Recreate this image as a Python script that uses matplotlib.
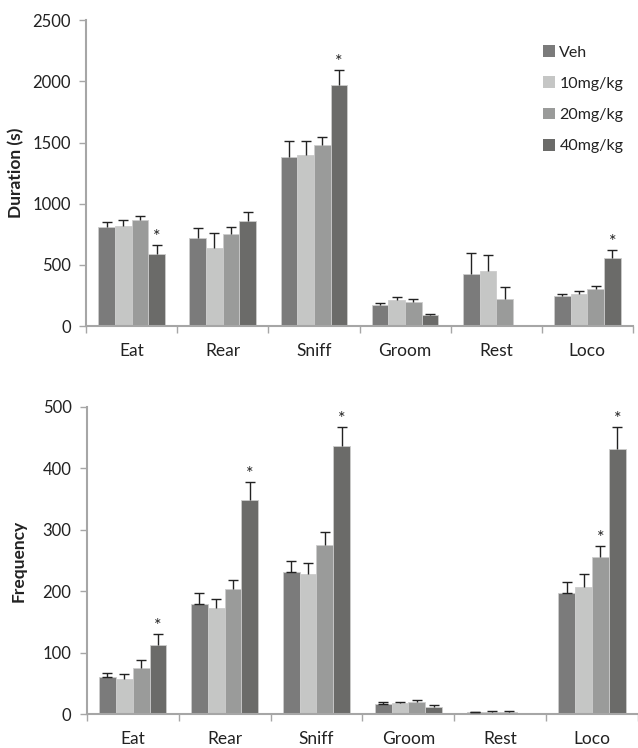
import matplotlib
matplotlib.use("Agg")
import matplotlib.pyplot as plt
import numpy as np
from matplotlib.patches import Patch

plt.rcParams['font.family'] = ['Lato', 'DejaVu Sans']

categories = ["Eat", "Rear", "Sniff", "Groom", "Rest", "Loco"]
series = ["Veh", "10mg/kg", "20mg/kg", "40mg/kg"]
colors = ["#7b7b7b", "#c5c6c5", "#9a9b9a", "#6b6b69"]

# Duration (s)
dur_vals = {
    "Veh":     [811, 724, 1383, 172, 425, 245],
    "10mg/kg": [817, 637, 1397, 212, 452, 259],
    "20mg/kg": [866, 749, 1481, 199, 221, 300],
    "40mg/kg": [588, 863, 1969, 87, 0, 556],
}
dur_err = {
    "Veh":     [39, 77, 126, 21, 174, 14],
    "10mg/kg": [49, 128, 112, 28, 128, 30],
    "20mg/kg": [30, 57, 66, 22, 95, 27],
    "40mg/kg": [77, 68, 123, 14, 0, 70],
}
dur_stars = {"40mg/kg": ["Eat", "Sniff", "Loco"]}

# Frequency
freq_vals = {
    "Veh":     [60, 180, 232, 17, 3, 197],
    "10mg/kg": [57, 173, 228, 18, 4, 207],
    "20mg/kg": [76, 204, 275, 20, 4, 256],
    "40mg/kg": [112, 348, 437, 12, 0, 431],
}
freq_err = {
    "Veh":     [8, 18, 17, 3, 1, 18],
    "10mg/kg": [9, 15, 18, 2, 2, 21],
    "20mg/kg": [13, 15, 22, 3, 2, 18],
    "40mg/kg": [18, 30, 30, 3, 0, 36],
}
freq_stars = {"20mg/kg": ["Loco"], "40mg/kg": ["Eat", "Rear", "Sniff", "Loco"]}

fig = plt.figure(figsize=(6.38, 7.48), dpi=100)
ax1 = fig.add_axes([0.135, 0.564, 0.857, 0.409])
ax2 = fig.add_axes([0.136, 0.045, 0.864, 0.411])

barw = 0.183
spine_col = "#a6a6a6"
txt_col = "#222222"


def draw(ax, vals, errs, stars, ymax, ystep, ylabel, lower_cap_series,
         xmax, label_x):
    x = np.arange(len(categories))
    for i, s in enumerate(series):
        xs = x + (i - 1.5) * barw
        v = np.array(vals[s], dtype=float)
        e = np.array(errs[s], dtype=float)
        ax.bar(xs, v, width=barw, color=colors[i], edgecolor="#cccccc",
               linewidth=0.6, zorder=2)
        m = e > 0
        ax.errorbar(xs[m], v[m], yerr=[np.zeros(m.sum()), e[m]], fmt="none",
                    ecolor="#222222", elinewidth=1.0, capsize=0, zorder=3)
        ax.plot(xs[m], v[m] + e[m], ls="none", marker="_", ms=7.5,
                mew=1.0, color="#222222", zorder=3)
        if s in lower_cap_series:
            ax.plot(xs[m], v[m], ls="none", marker="_", ms=7.5,
                    mew=1.0, color="#222222", zorder=3)
        for c in stars.get(s, []):
            j = categories.index(c)
            ax.annotate("*", (xs[j], v[j] + e[j]), xytext=(0, 0),
                        textcoords="offset points", ha="center", va="bottom",
                        fontsize=13, color=txt_col)
    ax.set_xlim(-0.5, xmax)
    ax.set_ylim(0, ymax)
    ax.set_yticks(np.arange(0, ymax + 1, ystep))
    ax.set_xticks(np.arange(len(categories)))
    ax.set_xticklabels(categories, fontsize=12.5, color=txt_col)
    ax.set_xticks(np.arange(len(categories) + 1) - 0.5, minor=True)
    ax.tick_params(axis="x", which="major", length=0, pad=12)
    ax.tick_params(axis="x", which="minor", length=5, color=spine_col, width=1)
    ax.tick_params(axis="y", length=5, color=spine_col, width=1,
                   labelsize=12, labelcolor=txt_col, pad=6)
    for sp in ["top", "right"]:
        ax.spines[sp].set_visible(False)
    for sp in ["left", "bottom"]:
        ax.spines[sp].set_color(spine_col)
        ax.spines[sp].set_linewidth(1.5)
    ax.set_ylabel(ylabel, fontsize=12.5, fontweight="bold", color=txt_col)
    ax.yaxis.set_label_coords(label_x, 0.5)


draw(ax1, dur_vals, dur_err, dur_stars, 2500, 500, "Duration (s)", [], 5.5, -0.113)
draw(ax2, freq_vals, freq_err, freq_stars, 500, 100, "Frequency", ["Veh"], 5.45, -0.109)

handles = [Patch(facecolor=colors[i], edgecolor="none") for i in range(len(series))]
leg = ax1.legend(handles, series, loc="upper left", bbox_to_anchor=(0.81, 0.965),
                 frameon=False, fontsize=11.5, handlelength=0.75, handleheight=0.75,
                 handletextpad=0.25, labelspacing=1.05, labelcolor=txt_col)

fig.savefig("out.png", dpi=100, facecolor="white")
